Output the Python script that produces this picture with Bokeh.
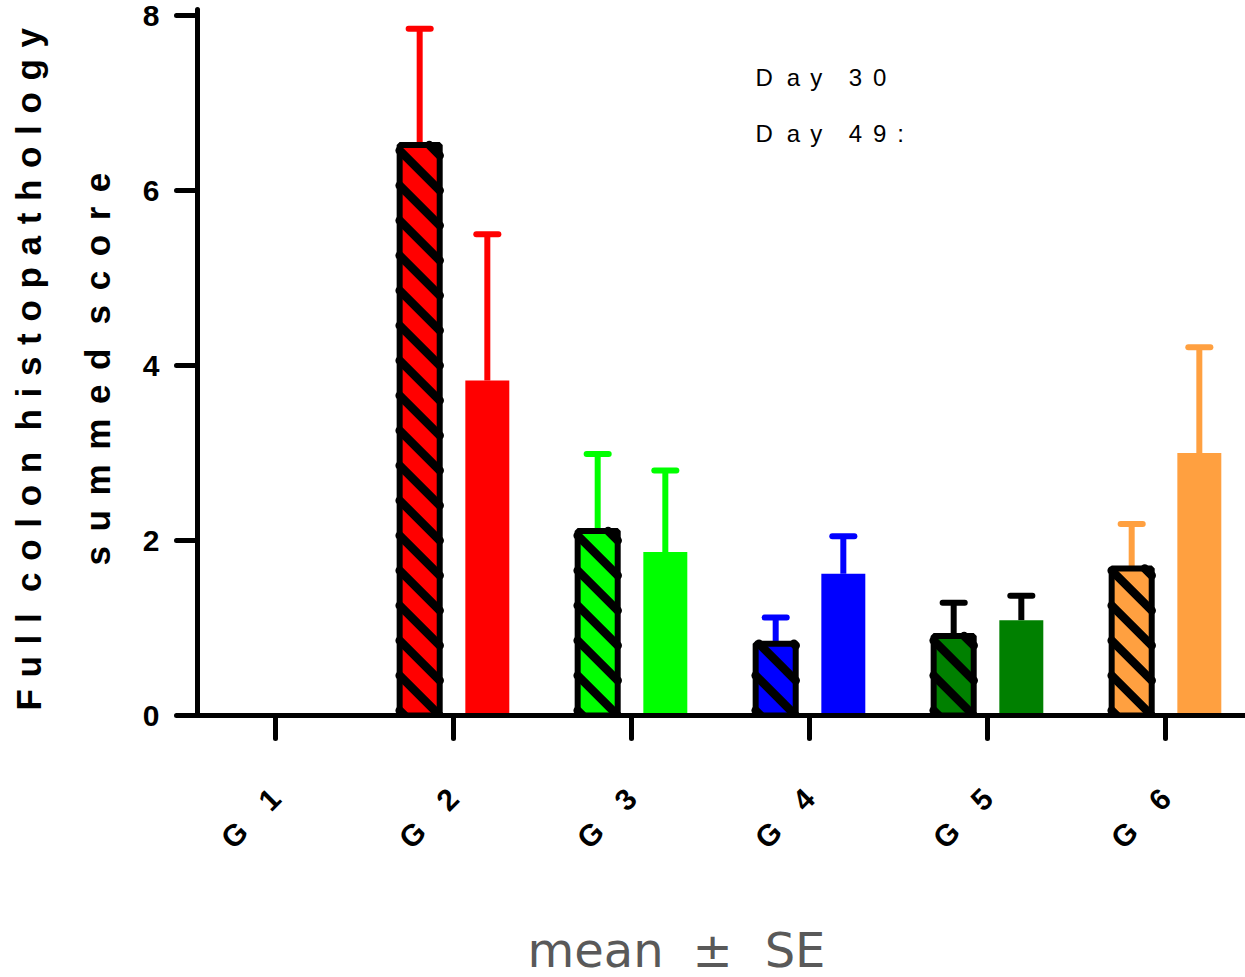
import math
from bokeh.plotting import figure
from bokeh.models import FixedTicker, Label, ColumnDataSource, Range1d, Title
from bokeh.embed import file_html
from bokeh.resources import INLINE

# ---------------- data ----------------
groups = ["G1", "G2", "G3", "G4", "G5", "G6"]
day30_mean = [0.0, 6.52, 2.11, 0.82, 0.91, 1.68]
day30_se = [0.0, 1.33, 0.88, 0.30, 0.38, 0.51]
day49_mean = [0.0, 3.83, 1.87, 1.62, 1.09, 3.00]
day49_se = [0.0, 1.67, 0.93, 0.43, 0.28, 1.21]
bar_colors = ["#000000", "#FF0000", "#00FF00", "#0000FF", "#008000", "#FFA040"]
err_colors = ["#000000", "#FF0000", "#00FF00", "#0000FF", "#000000", "#FFA040"]
y_ticks = [0, 2, 4, 6, 8]
series_names = ["Day 30", "Day 49:"]
y_title = ["Full colon histopathology", "summed score"]
note = "mean \u00b1 SE"

# ---------------- layout constants ----------------
FONT = "Liberation Sans"
W, H = 1245, 977
BL, BT, BB = 197, 9, 262
X0, X1 = 0.5618, 6.4494
Y0, Y1 = 0.0, 8.07
KX = (W - BL) / (X1 - X0)          # px per x unit
KY = (H - BT - BB) / (Y1 - Y0)     # px per y unit
pos = list(range(1, len(groups) + 1))
off = 0.19
cap = 0.062
w30, w49 = 0.225, 0.247
hatch_period = 35.0                # px, vertical


def make_source(means, ses, shift):
    d = dict(x=[], top=[], err=[], color=[], ecolor=[], cl=[], cr=[])
    for p_, m, s, c, ec in zip(pos, means, ses, bar_colors, err_colors):
        if m <= 0:
            continue
        x = p_ + shift
        d["x"].append(x)
        d["top"].append(m)
        d["err"].append(m + s)
        d["color"].append(c)
        d["ecolor"].append(ec)
        d["cl"].append(x - cap)
        d["cr"].append(x + cap)
    return ColumnDataSource(d)


def hatch_lines(src, width):
    xs0, ys0, xs1, ys1 = [], [], [], []
    for x, t in zip(src.data["x"], src.data["top"]):
        xl = x - width / 2
        bw = width * KX
        bh = t * KY
        k = -int(bw // hatch_period) - 1
        while True:
            c = bw + k * hatch_period
            k += 1
            if c <= 0:
                continue
            if c >= bw + bh:
                break
            us = max(0.0, c - bh)
            ue = min(bw, c)
            xs0.append(xl + us / KX); ys0.append((c - us) / KY)
            xs1.append(xl + ue / KX); ys1.append((c - ue) / KY)
    return ColumnDataSource(dict(x0=xs0, y0=ys0, x1=xs1, y1=ys1))


src30 = make_source(day30_mean, day30_se, -off)
src49 = make_source(day49_mean, day49_se, off)
hsrc = hatch_lines(src30, w30)

p = figure(width=W, height=H, x_range=Range1d(X0, X1), y_range=Range1d(Y0, Y1),
           output_backend="svg", toolbar_location=None,
           min_border_left=BL, min_border_right=0, min_border_top=BT, min_border_bottom=BB)
p.outline_line_color = None
p.xgrid.visible = False
p.ygrid.visible = False
p.background_fill_color = "white"

# error bars (upper only)
for src in (src30, src49):
    p.segment(x0="x", y0="top", x1="x", y1="err", source=src, line_color="ecolor", line_width=6)
    p.segment(x0="cl", y0="err", x1="cr", y1="err", source=src, line_color="ecolor", line_width=6,
              line_cap="round")

# bars
p.vbar(x="x", top="top", bottom=0, width=w49, source=src49, fill_color="color", line_color=None)
p.vbar(x="x", top="top", bottom=0, width=w30, source=src30, fill_color="color",
       line_color="black", line_width=6)
p.segment(x0="x0", y0="y0", x1="x1", y1="y1", source=hsrc, line_color="black",
          line_width=8.5, line_cap="round")

# axes
xa = p.xaxis[0]
xa.ticker = FixedTicker(ticks=pos)
xa.major_label_overrides = {p_: g[0] + "\u2003" + g[1:] for p_, g in zip(pos, groups)}
xa.major_label_orientation = math.pi / 4
xa.major_label_text_font = FONT
xa.major_label_text_font_style = "bold"
xa.major_label_text_font_size = "30px"
xa.major_label_text_color = "black"
xa.major_label_standoff = 55
xa.axis_line_width = 5
xa.major_tick_line_width = 5
xa.major_tick_out = 23
xa.major_tick_in = 0
xa.minor_tick_line_color = None
xa.axis_line_cap = "round"
xa.major_tick_line_cap = "round"
# invisible spacer between tick labels and the footnote
xa.axis_label = "\u2009"
xa.axis_label_text_font_size = "1px"
xa.axis_label_standoff = 46

ya = p.yaxis[0]
ya.ticker = FixedTicker(ticks=y_ticks)
ya.major_label_text_font = FONT
ya.major_label_text_font_style = "bold"
ya.major_label_text_font_size = "30px"
ya.major_label_text_color = "black"
ya.major_label_standoff = 17
ya.axis_line_width = 5
ya.major_tick_line_width = 5
ya.major_tick_out = 21
ya.major_tick_in = 0
ya.minor_tick_line_color = None
ya.axis_line_cap = "round"
ya.major_tick_line_cap = "round"


def spaced(text, sep, wordsep):
    return wordsep.join(sep.join(w) for w in text.split(" "))


# y title (two lines, letter-spaced); first added sits next to the axis
p.add_layout(Title(text=spaced(y_title[1], "\u2005\u2006", "\u2005\u2006 "), align="left",
                   offset=150, text_font=FONT, text_font_style="bold", text_font_size="35px",
                   text_color="black", standoff=46), "left")
p.add_layout(Title(text=spaced(y_title[0], "\u2005\u200a", "\u2005\u200a "), align="left",
                   offset=5, text_font=FONT, text_font_style="bold", text_font_size="35px",
                   text_color="black", standoff=10), "left")

# footnote
note_parts = note.split(" ")
note_text = note_parts[0] + "\u2002\u200a" + note_parts[1] + "\u2002\u2006" + note_parts[2]
p.add_layout(Title(text=note_text, align="left", offset=330, standoff=0,
                   vertical_align="bottom",
                   text_font="DejaVu Sans", text_font_size="48px", text_font_style="normal",
                   text_color="#595959"), "below")


# legend texts
def legend_text(s):
    d, n = s.split(" ")
    return d[0] + "\u2002\u200a" + d[1] + "\u2005\u2006" + d[2] + " \u2002\u2005\u200a" + "\u2009\u2005".join(n)


p.add_layout(Label(x=558, y=638, x_units="screen", y_units="screen", text=legend_text(series_names[0]),
                   text_font=FONT, text_font_size="24px", text_baseline="alphabetic", text_color="black"))
p.add_layout(Label(x=558, y=582, x_units="screen", y_units="screen", text=legend_text(series_names[1]),
                   text_font=FONT, text_font_size="24px", text_baseline="alphabetic", text_color="black"))

open("out.html", "w").write(file_html(p, INLINE))
